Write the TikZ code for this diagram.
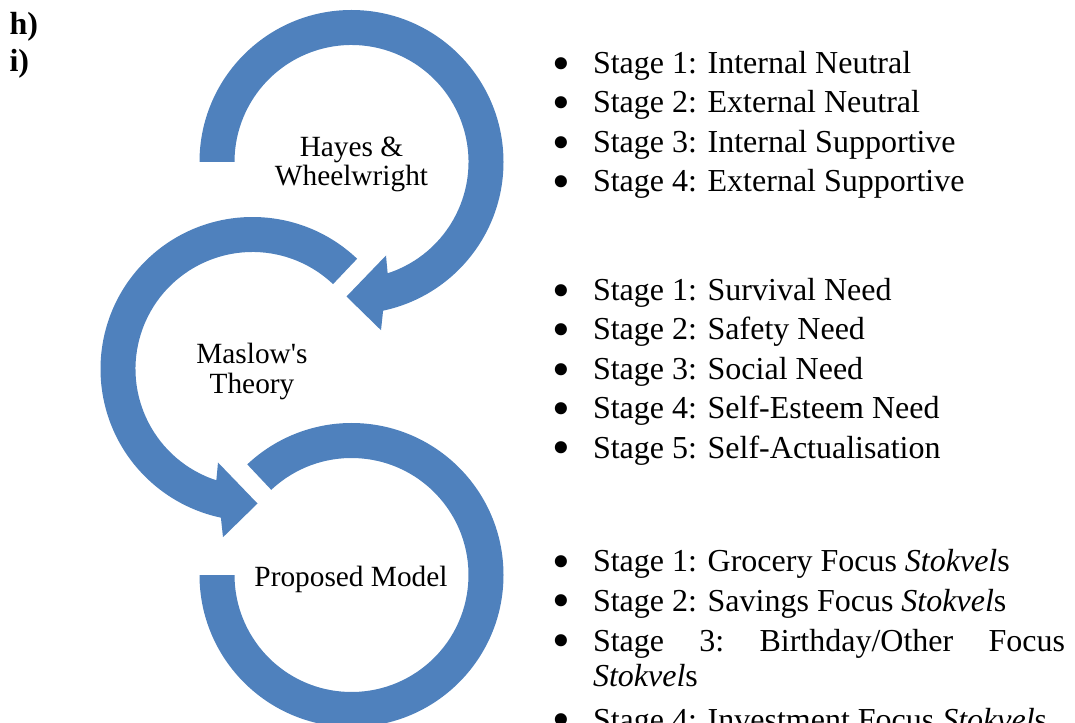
\documentclass[tikz,border=0pt]{standalone}
\usepackage{fontspec}
\setmainfont{Liberation Serif}
\definecolor{arcblue}{RGB}{79,129,189}
\begin{document}
\begin{tikzpicture}[x=0.375pt,y=0.375pt,
  ring/.style={fill=arcblue},
  lbl/.style={anchor=base,inner sep=0pt,font=\fontsize{11}{13}\selectfont},
  item/.style={anchor=base west,inner sep=0pt,font=\fontsize{12}{14}\selectfont},
  bul/.style={anchor=base,inner sep=0pt,yshift=-2.6pt,font=\fontsize{19}{20}\selectfont},
  head/.style={anchor=base west,inner sep=0pt,font=\fontsize{12}{14}\selectfont\bfseries}]
\useasboundingbox (0,0) rectangle (1075,722);
\clip (0,0) rectangle (1075,722);
% arc 1 (Hayes & Wheelwright) with arrowhead
\begin{scope}[shift={(351.5,560)}]
\fill[ring] (180:57pt) arc[start angle=180,end angle=-78,radius=57pt]
  -- (29.5,-168.2) -- (-5,-134.5) -- (34.5,-93.5)
  -- (-72:43.875pt) arc[start angle=-72,end angle=180,radius=43.875pt] -- cycle;
\end{scope}
% arc 2 (Maslow) with arrowhead
\begin{scope}[shift={(252.5,353)}]
\fill[ring] (46.5:57pt) arc[start angle=46.5,end angle=258,radius=57pt]
  -- (-29.5,-168.2) -- (5,-134.5) -- (-34.5,-93.5)
  -- (252:43.875pt) arc[start angle=252,end angle=46.5,radius=43.875pt] -- cycle;
\end{scope}
% arc 3 (Proposed Model), no arrowhead
\begin{scope}[shift={(351.5,147)}]
\fill[ring] (180:57pt) arc[start angle=180,end angle=493.3,radius=57pt]
  -- (493.3:43.875pt) arc[start angle=493.3,end angle=180,radius=43.875pt] -- cycle;
\end{scope}
% circle labels
\node[lbl] (hayes) at (351.5,565.3) {Hayes \&};
\node[lbl] (wheel) at (351.5,536.5) {Wheelwright};
\node[lbl] (maslow) at (252,358) {Maslow\textquotesingle s};
\node[lbl] (theory) at (252,328.7) {Theory};
\node[lbl] (proposed) at (351,135.3) {Proposed Model};
% headings
\node[head] (hh) at (9,687) {h)};
\node[head] (hi) at (9,650) {i)};
% block 1
\node[bul] (b11) at (561,648.7) {\smash{•}};
\node[item] (t11) at (592.5,648.7) {Stage 1: Internal Neutral};
\node[bul] (b12) at (561,609) {\smash{•}};
\node[item] (t12) at (592.5,609) {Stage 2: External Neutral};
\node[bul] (b13) at (561,569.5) {\smash{•}};
\node[item] (t13) at (592.5,569.5) {Stage 3: Internal Supportive};
\node[bul] (b14) at (561,530) {\smash{•}};
\node[item] (t14) at (592.5,530) {Stage 4: External Supportive};
% block 2
\node[bul] (b21) at (561,421) {\smash{•}};
\node[item] (t21) at (592.5,421) {Stage 1: Survival Need};
\node[bul] (b22) at (561,382) {\smash{•}};
\node[item] (t22) at (592.5,382) {Stage 2: Safety Need};
\node[bul] (b23) at (561,342.5) {\smash{•}};
\node[item] (t23) at (592.5,342.5) {Stage 3: Social Need};
\node[bul] (b24) at (561,303.5) {\smash{•}};
\node[item] (t24) at (592.5,303.5) {Stage 4: Self-Esteem Need};
\node[bul] (b25) at (561,264) {\smash{•}};
\node[item] (t25) at (592.5,264) {Stage 5: Self-Actualisation};
% block 3
\node[bul] (b31) at (561,150.3) {\smash{•}};
\node[item] (t31) at (592.5,150.3) {Stage 1: Grocery Focus \textit{Stokvel}s};
\node[bul] (b32) at (561,111) {\smash{•}};
\node[item] (t32) at (592.5,111) {Stage 2: Savings Focus \textit{Stokvel}s};
\node[bul] (b33) at (561,71) {\smash{•}};
\node[item] (t33) at (592.5,71) {\hbox to 177pt{Stage\hfill 3:\hfill Birthday/Other\hfill Focus}};
\node[item] (t33b) at (592.5,36) {\textit{Stokvel}s};
\node[bul] (b34) at (561,-8) {\smash{•}};
\node[item] (t34) at (592.5,-8) {Stage 4: Investment Focus \textit{Stokvel}s};
\end{tikzpicture}
\end{document}
